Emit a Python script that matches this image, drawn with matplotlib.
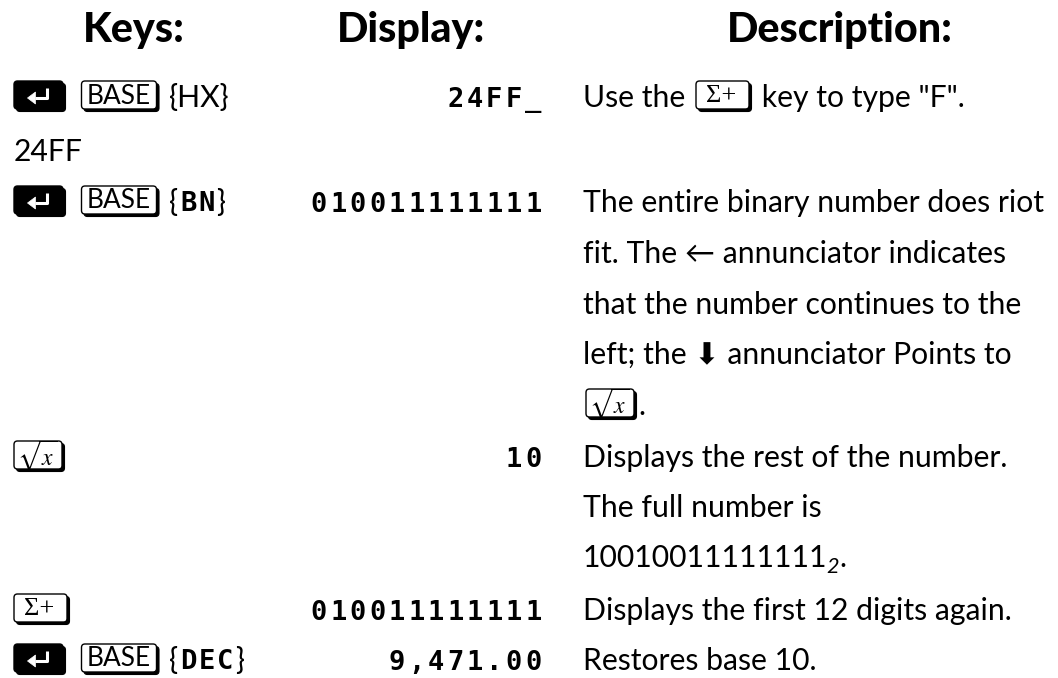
import matplotlib
matplotlib.use("Agg")
import matplotlib.pyplot as plt
from matplotlib.patches import FancyBboxPatch, Polygon
from matplotlib.lines import Line2D

# ---------------- content ----------------
headers = ["Keys:", "Display:", "Description:"]

# key column entries (one list of tokens per row)
key_rows = [
    [("key", "shift"), ("key", "BASE"), ("menu", "HX", False)],
    [("text", "24FF")],
    [("key", "shift"), ("key", "BASE"), ("menu", "BN", True)],
    [("key", "sqrt")],
    [("key", "sigma")],
    [("key", "shift"), ("key", "BASE"), ("menu", "DEC", True)],
]

display_values = ["24FF_", "010011111111", "10", "010011111111", "9,471.00"]

description_lines = [
    [("text", "Use the "), ("key", "sigma"), ("text", ' key to type "F".')],
    [("text", "The entire binary number does riot")],
    [("text", "fit. The \u2190 annunciator indicates")],
    [("text", "that the number continues to the")],
    [("text", "left; the \u2b07 annunciator Points to")],
    [("key", "sqrt"), ("text", ".")],
    [("text", "Displays the rest of the number.")],
    [("text", "The full number is")],
    [("text", "10010011111111"), ("sub", "2"), ("text", ".")],
    [("text", "Displays the first 12 digits again.")],
    [("text", "Restores base 10.")],
]

# ---------------- layout ----------------
W, H = 1058, 678
header_cx = [134, 411, 840]
header_base = 42
key_base = [107, 161, 212, 467, 620, 670]
display_base = [107, 212, 467, 620, 670]
desc_base = [107, 212, 263, 314, 364, 415, 467, 517, 567, 620, 670]
KEY_X = 14
DISP_RIGHT = 543
DESC_X = 583
LCD_PITCH = 19.5
key_w = {"shift": 49, "BASE": 75, "sqrt": 48, "sigma": 53}
KEY_H = 28

BODY = ["Lato", "DejaVu Sans"]
MONO = ["DejaVu Sans Mono"]

fig = plt.figure(figsize=(W / 100, H / 100), dpi=100)
fig.patch.set_facecolor("white")
ax = fig.add_axes([0, 0, 1, 1])
ax.set_xlim(0, W)
ax.set_ylim(H, 0)
ax.axis("off")
renderer = fig.canvas.get_renderer()


def width_of(s, **kw):
    t = ax.text(0, 0, s, **kw)
    w = t.get_window_extent(renderer).width
    t.remove()
    return w


body_size = 20 * 462 / width_of("The entire binary number does riot", fontsize=20, family=BODY)
head_size = 20 * 226 / width_of("Description:", fontsize=20, family=BODY, weight="black")
base_lbl_size = 20 * 64 / width_of("BASE", fontsize=20, family=BODY)
lcd_size = 19.5


def draw_key(x, baseline, kind):
    w = key_w[kind]
    cy = baseline - 12
    top = cy - KEY_H / 2
    shadow = FancyBboxPatch((x + 2.5, top + 2.5), w, KEY_H,
                            boxstyle="round,pad=0,rounding_size=3.5",
                            fc="black", ec="black", lw=0.8, zorder=2)
    dark = kind == "shift"
    face = FancyBboxPatch((x, top), w, KEY_H,
                          boxstyle="round,pad=0,rounding_size=3.5",
                          fc="black" if dark else "white", ec="black",
                          lw=1.0, zorder=3)
    ax.add_patch(shadow)
    ax.add_patch(face)
    cx = x + w / 2
    if dark:
        ln = Line2D([cx + 8, cx + 8, cx - 4], [cy - 7, cy + 3, cy + 3],
                    color="white", lw=2.2, solid_joinstyle="round",
                    solid_capstyle="butt", zorder=4)
        ax.add_line(ln)
        ax.add_patch(Polygon([[cx - 11, cy + 3], [cx - 3, cy - 3], [cx - 3, cy + 9]],
                             closed=True, fc="white", ec="white", lw=0.5, zorder=4))
    elif kind == "BASE":
        ax.text(cx, cy + 1, "BASE", ha="center", va="center", family=BODY,
                fontsize=base_lbl_size, zorder=4)
    elif kind == "sqrt":
        ax.text(cx - 1, cy + 1, r"$\sqrt{x}$", ha="center", va="center",
                math_fontfamily="stix", fontsize=17, zorder=4)
    elif kind == "sigma":
        ax.text(cx - 1, cy + 1, "\u03a3+", ha="center", va="center",
                family=["Liberation Serif", "DejaVu Serif"], fontsize=19, zorder=4)
    return w + 2.5


def draw_text(x, baseline, s, **kw):
    props = dict(family=BODY, fontsize=body_size)
    props.update(kw)
    t = ax.text(x, baseline, s, ha="left", va="baseline", **props)
    return t.get_window_extent(renderer).width


def draw_lcd_left(x, baseline, s, pitch):
    for i, c in enumerate(s):
        ax.text(x + (i + 0.5) * pitch, baseline, c, ha="center", va="baseline",
                family=MONO, weight="bold", fontsize=lcd_size)
    return len(s) * pitch


# headers
for h, cx in zip(headers, header_cx):
    ax.text(cx, header_base, h, ha="center", va="baseline", family=BODY,
            weight="black", fontsize=head_size)

# key column
for tokens, b in zip(key_rows, key_base):
    x = KEY_X
    prev = None
    for tok in tokens:
        if tok[0] == "key":
            if prev == "key":
                x += 16
            x += draw_key(x, b, tok[1])
        elif tok[0] == "menu":
            x += 10
            if tok[2]:
                x += draw_text(x, b, "{")
                x += 1
                x += draw_lcd_left(x, b - 1, tok[1], 18.5)
                x += draw_text(x, b, "}")
            else:
                x += draw_text(x, b, "{" + tok[1] + "}")
        else:
            x += draw_text(x, b, tok[1])
        prev = tok[0]

# display column (right aligned, fixed pitch)
for s, b in zip(display_values, display_base):
    draw_lcd_left(DISP_RIGHT - len(s) * LCD_PITCH, b, s, LCD_PITCH)

# description column
for tokens, b in zip(description_lines, desc_base):
    x = DESC_X
    for tok in tokens:
        if tok[0] == "key":
            x += 3
            x += draw_key(x, b, tok[1])
            x += 2
        elif tok[0] == "sub":
            x -= 1
            x += draw_text(x, b + 6, tok[1], fontsize=body_size * 0.72, style="italic")
        else:
            x += draw_text(x, b, tok[1])

fig.savefig("out.png", dpi=100, facecolor="white")
